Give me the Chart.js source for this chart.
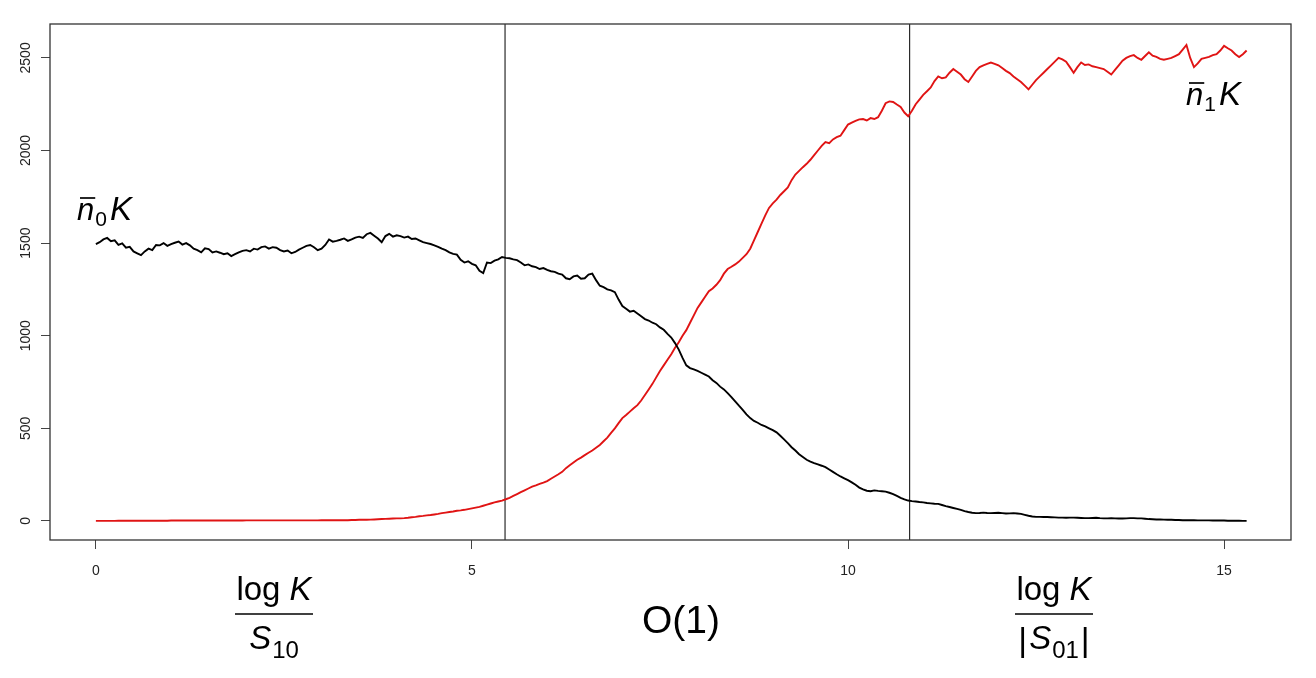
<!DOCTYPE html>
<html>
<head>
<meta charset="utf-8">
<script src="https://cdn.jsdelivr.net/npm/chart.js@4.4.0/dist/chart.umd.min.js"></script>
<style>
  html, body { margin: 0; padding: 0; background: #ffffff; }
  #wrap { width: 1316px; height: 678px; position: relative; }
</style>
</head>
<body>
<div id="wrap"><canvas id="c" width="1316" height="678"></canvas></div>
<script>
// time grid (x values), one row per unit of time
const times = [
 0.00,0.05,0.10,0.15,0.20,0.25,0.30,0.35,0.40,0.45,0.50,0.55,0.60,0.65,0.70,0.75,0.80,0.85,0.90,0.95,
 1.00,1.05,1.10,1.15,1.20,1.25,1.30,1.35,1.40,1.45,1.50,1.55,1.60,1.65,1.70,1.75,1.80,1.85,1.90,1.95,
 2.00,2.05,2.10,2.15,2.20,2.25,2.30,2.35,2.40,2.45,2.50,2.55,2.60,2.65,2.70,2.75,2.80,2.85,2.90,2.95,
 3.00,3.05,3.10,3.15,3.20,3.25,3.30,3.35,3.40,3.45,3.50,3.55,3.60,3.65,3.70,3.75,3.80,3.85,3.90,3.95,
 4.00,4.05,4.10,4.15,4.20,4.25,4.30,4.35,4.40,4.45,4.50,4.55,4.60,4.65,4.70,4.75,4.80,4.85,4.90,4.95,
 5.00,5.05,5.10,5.15,5.20,5.25,5.30,5.35,5.40,5.45,5.50,5.55,5.60,5.65,5.70,5.75,5.80,5.85,5.90,5.95,
 6.00,6.05,6.10,6.15,6.20,6.25,6.30,6.35,6.40,6.45,6.50,6.55,6.60,6.65,6.70,6.75,6.80,6.85,6.90,6.95,
 7.00,7.05,7.10,7.15,7.20,7.25,7.30,7.35,7.40,7.45,7.50,7.55,7.60,7.65,7.70,7.75,7.80,7.85,7.90,7.95,
 8.00,8.05,8.10,8.15,8.20,8.25,8.30,8.35,8.40,8.45,8.50,8.55,8.60,8.65,8.70,8.75,8.80,8.85,8.90,8.95,
 9.00,9.05,9.10,9.15,9.20,9.25,9.30,9.35,9.40,9.45,9.50,9.55,9.60,9.65,9.70,9.75,9.80,9.85,9.90,9.95,
 10.00,10.05,10.10,10.15,10.20,10.25,10.30,10.35,10.40,10.45,10.50,10.55,10.60,10.65,10.70,10.75,10.80,10.85,10.90,10.95,
 11.00,11.05,11.10,11.15,11.20,11.25,11.30,11.35,11.40,11.45,11.50,11.55,11.60,11.65,11.70,11.75,11.80,11.85,11.90,11.95,
 12.00,12.05,12.10,12.15,12.20,12.25,12.30,12.35,12.40,12.45,12.50,12.55,12.60,12.65,12.70,12.75,12.80,12.85,12.90,12.95,
 13.00,13.05,13.10,13.15,13.20,13.25,13.30,13.35,13.40,13.45,13.50,13.55,13.60,13.65,13.70,13.75,13.80,13.85,13.90,13.95,
 14.00,14.05,14.10,14.15,14.20,14.25,14.30,14.35,14.40,14.45,14.50,14.55,14.60,14.65,14.70,14.75,14.80,14.85,14.90,14.95,
 15.00,15.05,15.10,15.15,15.20,15.25,15.30
];
// n0 K (black)
const n0K = [
 1495,1505,1520,1528,1510,1515,1490,1498,1475,1480,1455,1445,1435,1455,1470,1462,1490,1488,1500,1485,
 1495,1502,1508,1492,1500,1488,1470,1462,1450,1472,1468,1450,1455,1448,1440,1445,1430,1440,1450,1458,
 1462,1455,1470,1465,1478,1482,1470,1478,1475,1462,1455,1460,1445,1452,1465,1475,1485,1490,1478,1462,
 1470,1490,1520,1508,1512,1518,1525,1512,1520,1530,1535,1528,1548,1555,1540,1525,1505,1538,1550,1535,
 1542,1538,1530,1535,1522,1525,1515,1505,1500,1495,1488,1480,1470,1462,1450,1442,1438,1410,1395,1402,
 1388,1380,1350,1338,1395,1392,1405,1412,1425,1420,1418,1412,1408,1395,1380,1385,1375,1370,1360,1365,
 1355,1348,1345,1335,1330,1310,1305,1320,1325,1308,1310,1330,1335,1300,1270,1262,1250,1245,1235,1195,
 1160,1145,1130,1135,1120,1105,1090,1082,1070,1062,1045,1032,1010,990,960,925,880,840,825,818,
 810,800,790,780,760,745,725,710,690,668,645,622,600,575,555,540,530,518,510,500,
 490,478,460,440,420,398,380,360,345,330,320,312,305,298,290,278,265,252,240,230,
 220,208,195,180,170,163,160,165,162,160,158,152,145,135,125,116,110,107,105,102,
 100,97,95,93,92,86,80,75,70,65,60,53,48,44,42,43,45,43,42,43,
 44,42,40,41,42,40,38,33,28,24,22,22,21,21,20,19,18,18,17,18,
 18,17,16,15,15,16,17,15,14,14,15,14,13,13,14,15,15,14,14,12,
 10,9,8,8,7,6,6,5,5,4,4,4,4,3,3,3,3,2,2,2,
 2,1,1,1,1,0,0
];
// n1 K (red)
const n1K = [
 0,0,0,0,0,0,1,1,1,1,1,1,1,1,1,1,1,1,1,1,
 2,2,2,2,2,2,2,2,2,2,2,2,2,2,2,2,2,2,2,2,
 3,3,3,3,3,3,3,3,3,3,3,3,3,3,3,3,3,3,3,3,
 4,4,4,4,4,4,4,4,5,5,6,6,6,7,8,9,10,11,12,13,
 14,14,15,17,20,22,25,27,30,32,35,38,42,45,48,51,55,57,60,64,
 68,72,76,82,88,94,100,105,110,117,125,135,145,155,165,175,185,192,200,207,
 215,228,240,252,265,285,300,315,330,342,355,368,380,395,410,430,450,475,500,528,
 555,572,590,608,625,650,680,710,740,775,810,840,870,900,935,965,1000,1030,1070,1110,
 1150,1180,1210,1240,1255,1275,1300,1335,1360,1372,1385,1400,1420,1440,1470,1515,1560,1605,1650,1690,
 1715,1735,1760,1780,1800,1840,1870,1890,1910,1928,1950,1975,2000,2025,2045,2040,2060,2072,2080,2110,
 2140,2150,2160,2168,2170,2162,2175,2170,2180,2215,2255,2265,2262,2248,2235,2205,2185,2215,2250,2275,
 2300,2320,2340,2375,2400,2390,2395,2420,2440,2425,2410,2385,2370,2400,2430,2450,2460,2468,2475,2468,
 2460,2445,2430,2418,2400,2385,2370,2350,2330,2355,2380,2400,2420,2440,2460,2480,2500,2492,2480,2450,
 2420,2450,2475,2462,2465,2455,2450,2445,2440,2425,2410,2435,2460,2485,2500,2510,2515,2500,2490,2510,
 2530,2512,2505,2495,2490,2495,2500,2510,2520,2545,2570,2500,2450,2470,2495,2500,2505,2515,2520,2540,
 2565,2552,2540,2520,2505,2520,2540
];
// phase boundaries (vertical lines)
const phaseBreaks = [5.44, 10.82];
const xTicks = [0, 5, 10, 15];
const yTicks = [0, 500, 1000, 1500, 2000, 2500];
const xRange = [-0.61, 15.89];
const yRange = [-103, 2683];

const toPts = (vals) => vals.map((v, i) => ({ x: times[i], y: v }));

const datasets = [
  { data: toPts(n0K), borderColor: '#000000', borderWidth: 1.9, pointRadius: 0, tension: 0 },
  { data: toPts(n1K), borderColor: '#e01414', borderWidth: 1.9, pointRadius: 0, tension: 0 }
];
phaseBreaks.forEach(b => datasets.push({
  data: [{ x: b, y: yRange[0] }, { x: b, y: yRange[1] }],
  borderColor: '#000000', borderWidth: 1, pointRadius: 0, tension: 0
}));

const SANS = '"Liberation Sans", Arial, sans-serif';

function drawFrac(ctx, cx, numParts, denParts, barY, barHalf) {
  // parts: [text, font, dy, extraGap]
  const drawRow = (parts, baseY) => {
    let w = 0;
    parts.forEach(p => { ctx.font = p[1]; w += ctx.measureText(p[0]).width + (p[3] || 0); });
    let x = cx - w / 2;
    parts.forEach(p => { ctx.font = p[1]; ctx.fillText(p[0], x, baseY + p[2]); x += ctx.measureText(p[0]).width + (p[3] || 0); });
  };
  drawRow(numParts, barY - 14);
  ctx.beginPath();
  ctx.moveTo(cx - barHalf, barY);
  ctx.lineTo(cx + barHalf, barY);
  ctx.lineWidth = 1.3;
  ctx.strokeStyle = '#000';
  ctx.stroke();
  drawRow(denParts, barY + 35);
}

const decor = {
  id: 'decor',
  afterDraw(chart) {
    const ctx = chart.ctx;
    const a = chart.chartArea;
    const ys = chart.scales.y;
    ctx.save();
    // box
    ctx.strokeStyle = '#333';
    ctx.lineWidth = 1.3;
    ctx.strokeRect(a.left, a.top, a.right - a.left, a.bottom - a.top);
    // y tick labels rotated
    ctx.fillStyle = '#222';
    ctx.font = '14px ' + SANS;
    ctx.textAlign = 'center';
    ctx.textBaseline = 'middle';
    yTicks.forEach(v => {
      const py = ys.getPixelForValue(v);
      ctx.save();
      ctx.translate(26, py);
      ctx.rotate(-Math.PI / 2);
      ctx.fillText(String(v), 0, 0);
      ctx.restore();
    });
    // curve labels
    ctx.fillStyle = '#000';
    ctx.textAlign = 'left';
    ctx.textBaseline = 'alphabetic';
    const labelN = (x, base, sub) => {
      ctx.font = 'italic 31px ' + SANS;
      const nw = ctx.measureText('n').width;
      ctx.fillText('n', x, base);
      ctx.beginPath();
      ctx.moveTo(x + 3, base - 22);
      ctx.lineTo(x + nw + 1, base - 22);
      ctx.lineWidth = 1.7;
      ctx.strokeStyle = '#000';
      ctx.stroke();
      ctx.font = '21px ' + SANS;
      ctx.fillText(sub, x + nw + 1, base + 6);
      const sw = ctx.measureText(sub).width;
      ctx.font = 'italic 33px ' + SANS;
      ctx.fillText('K', x + nw + sw + 4, base);
    };
    labelN(77, 220, '0');
    labelN(1186, 105, '1');
    // bottom annotations
    drawFrac(ctx, 274,
      [['log ', '33px ' + SANS, 0], ['K', 'italic 33px ' + SANS, 0]],
      [['S', 'italic 33px ' + SANS, 0, 1], ['10', '24px ' + SANS, 9]],
      614, 39);
    drawFrac(ctx, 1054,
      [['log ', '33px ' + SANS, 0], ['K', 'italic 33px ' + SANS, 0]],
      [['|', '34px ' + SANS, 2, 2], ['S', 'italic 33px ' + SANS, 0, 1], ['01', '24px ' + SANS, 9, 2], ['|', '34px ' + SANS, 2]],
      614, 39);
    ctx.font = '39px ' + SANS;
    ctx.textAlign = 'center';
    ctx.fillText('O(1)', 681, 633);
    ctx.restore();
  }
};

new Chart(document.getElementById('c'), {
  type: 'line',
  data: { datasets },
  options: {
    responsive: false,
    animation: false,
    events: [],
    layout: { padding: { top: 24, right: 25, left: 0, bottom: 0 } },
    plugins: { legend: { display: false }, tooltip: { enabled: false } },
    scales: {
      x: {
        type: 'linear',
        min: xRange[0], max: xRange[1],
        afterBuildTicks: (s) => { s.ticks = xTicks.map(v => ({ value: v })); },
        afterFit: (s) => { s.height = 138; },
        grid: { display: true, drawOnChartArea: false, drawTicks: true, tickLength: 9, color: '#444', lineWidth: 1 },
        border: { display: false },
        ticks: { color: '#222', font: { family: SANS, size: 14 }, padding: 14, maxRotation: 0 }
      },
      y: {
        type: 'linear',
        min: yRange[0], max: yRange[1],
        afterBuildTicks: (s) => { s.ticks = yTicks.map(v => ({ value: v })); },
        afterFit: (s) => { s.width = 50; },
        grid: { display: true, drawOnChartArea: false, drawTicks: true, tickLength: 9, color: '#444', lineWidth: 1 },
        border: { display: false },
        ticks: { display: false }
      }
    }
  },
  plugins: [decor]
});
</script>
</body>
</html>
